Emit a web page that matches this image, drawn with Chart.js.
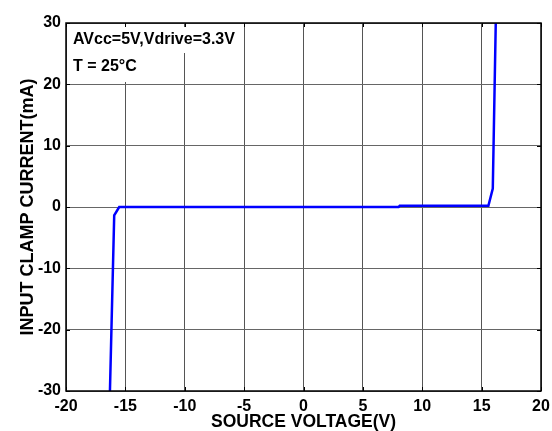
<!DOCTYPE html>
<html>
<head>
<meta charset="utf-8">
<script src="https://cdn.jsdelivr.net/npm/chart.js@4.4.1/dist/chart.umd.min.js"></script>
<style>
  html, body { margin: 0; padding: 0; background: #fff; }
  #wrap { width: 552px; height: 431px; }
</style>
</head>
<body>
<div id="wrap"><canvas id="clampChart"></canvas></div>
<script>
// source voltage (V) and input clamp current (mA)
const voltage = [-16.3, -15.94, -15.52, 8.0, 8.1, 15.57, 15.94, 16.19];
const current = [-30, -1.35, 0, 0, 0.2, 0.2, 3.0, 30];
const xTicks = [-20, -15, -10, -5, 0, 5, 10, 15, 20];
const yTicks = [-30, -20, -10, 0, 10, 20, 30];
const notes = ["AVcc=5V,Vdrive=3.3V", "T = 25°C"];

const FONT = "'Liberation Sans', Arial, sans-serif";

// frame, inward tick marks and the condition text boxes
const framePlugin = {
  id: "frame",
  afterDatasetsDraw(chart) {
    const { ctx, chartArea: a, scales } = chart;
    ctx.save();
    // notes with white background
    ctx.fillStyle = "#fff";
    ctx.fillRect(a.left + 1, a.top + 4, 172, 26);
    ctx.fillRect(a.left + 1, a.top + 30, 74, 29);
    ctx.fillStyle = "#000";
    ctx.font = "bold 16px " + FONT;
    ctx.textBaseline = "middle";
    ctx.fillText(notes[0], a.left + 7, a.top + 17);
    ctx.fillText(notes[1], a.left + 7, a.top + 44);

    ctx.strokeStyle = "#000";
    ctx.lineWidth = 1;
    ctx.beginPath();
    xTicks.forEach(v => {
      const px = Math.round(scales.x.getPixelForValue(v)) + 0.5;
      ctx.moveTo(px, a.bottom); ctx.lineTo(px, a.bottom - 4);
      ctx.moveTo(px, a.top); ctx.lineTo(px, a.top + 4);
    });
    yTicks.forEach(v => {
      const py = Math.round(scales.y.getPixelForValue(v)) + 0.5;
      ctx.moveTo(a.left, py); ctx.lineTo(a.left + 4, py);
      ctx.moveTo(a.right, py); ctx.lineTo(a.right - 4, py);
    });
    ctx.stroke();
    ctx.lineWidth = 1.5;
    ctx.strokeRect(a.left, a.top, a.right - a.left, a.bottom - a.top);
    ctx.restore();
  }
};

new Chart(document.getElementById("clampChart"), {
  type: "line",
  data: {
    datasets: [{
      data: voltage.map((v, i) => ({ x: v, y: current[i] })),
      borderColor: "#0000ff",
      borderWidth: 2.5,
      pointRadius: 0,
      tension: 0,
      fill: false
    }]
  },
  options: {
    responsive: true,
    maintainAspectRatio: false,
    animation: false,
    layout: { padding: { top: 23, right: 11, left: 0, bottom: 0 } },
    plugins: { legend: { display: false }, tooltip: { enabled: false } },
    scales: {
      x: {
        type: "linear",
        min: -20, max: 20,
        afterBuildTicks: s => { s.ticks = xTicks.map(v => ({ value: v })); },
        afterFit: s => { s.height = 40; s.paddingLeft = 0; s.paddingRight = 0; },
        grid: { color: "#555", lineWidth: 1, drawTicks: false },
        border: { display: false },
        ticks: { color: "#000", padding: 6, maxRotation: 0, font: { family: FONT, size: 16, weight: "bold" } },
        title: { display: true, text: "SOURCE VOLTAGE(V)", color: "#000", padding: 0,
                 font: { family: FONT, size: 17.5, weight: "bold", lineHeight: 1 } }
      },
      y: {
        type: "linear",
        min: -30, max: 30,
        afterBuildTicks: s => { s.ticks = yTicks.map(v => ({ value: v })); },
        afterFit: s => { s.width = 66; },
        grid: { color: "#666", lineWidth: 1, drawTicks: false },
        border: { display: false },
        ticks: { color: "#000", padding: 5, font: { family: FONT, size: 16, weight: "bold" } },
        title: { display: true, text: "INPUT CLAMP CURRENT(mA)", color: "#000", padding: { top: 17, bottom: 0 },
                 font: { family: FONT, size: 18, weight: "bold" } }
      }
    }
  },
  plugins: [framePlugin]
});
</script>
</body>
</html>
